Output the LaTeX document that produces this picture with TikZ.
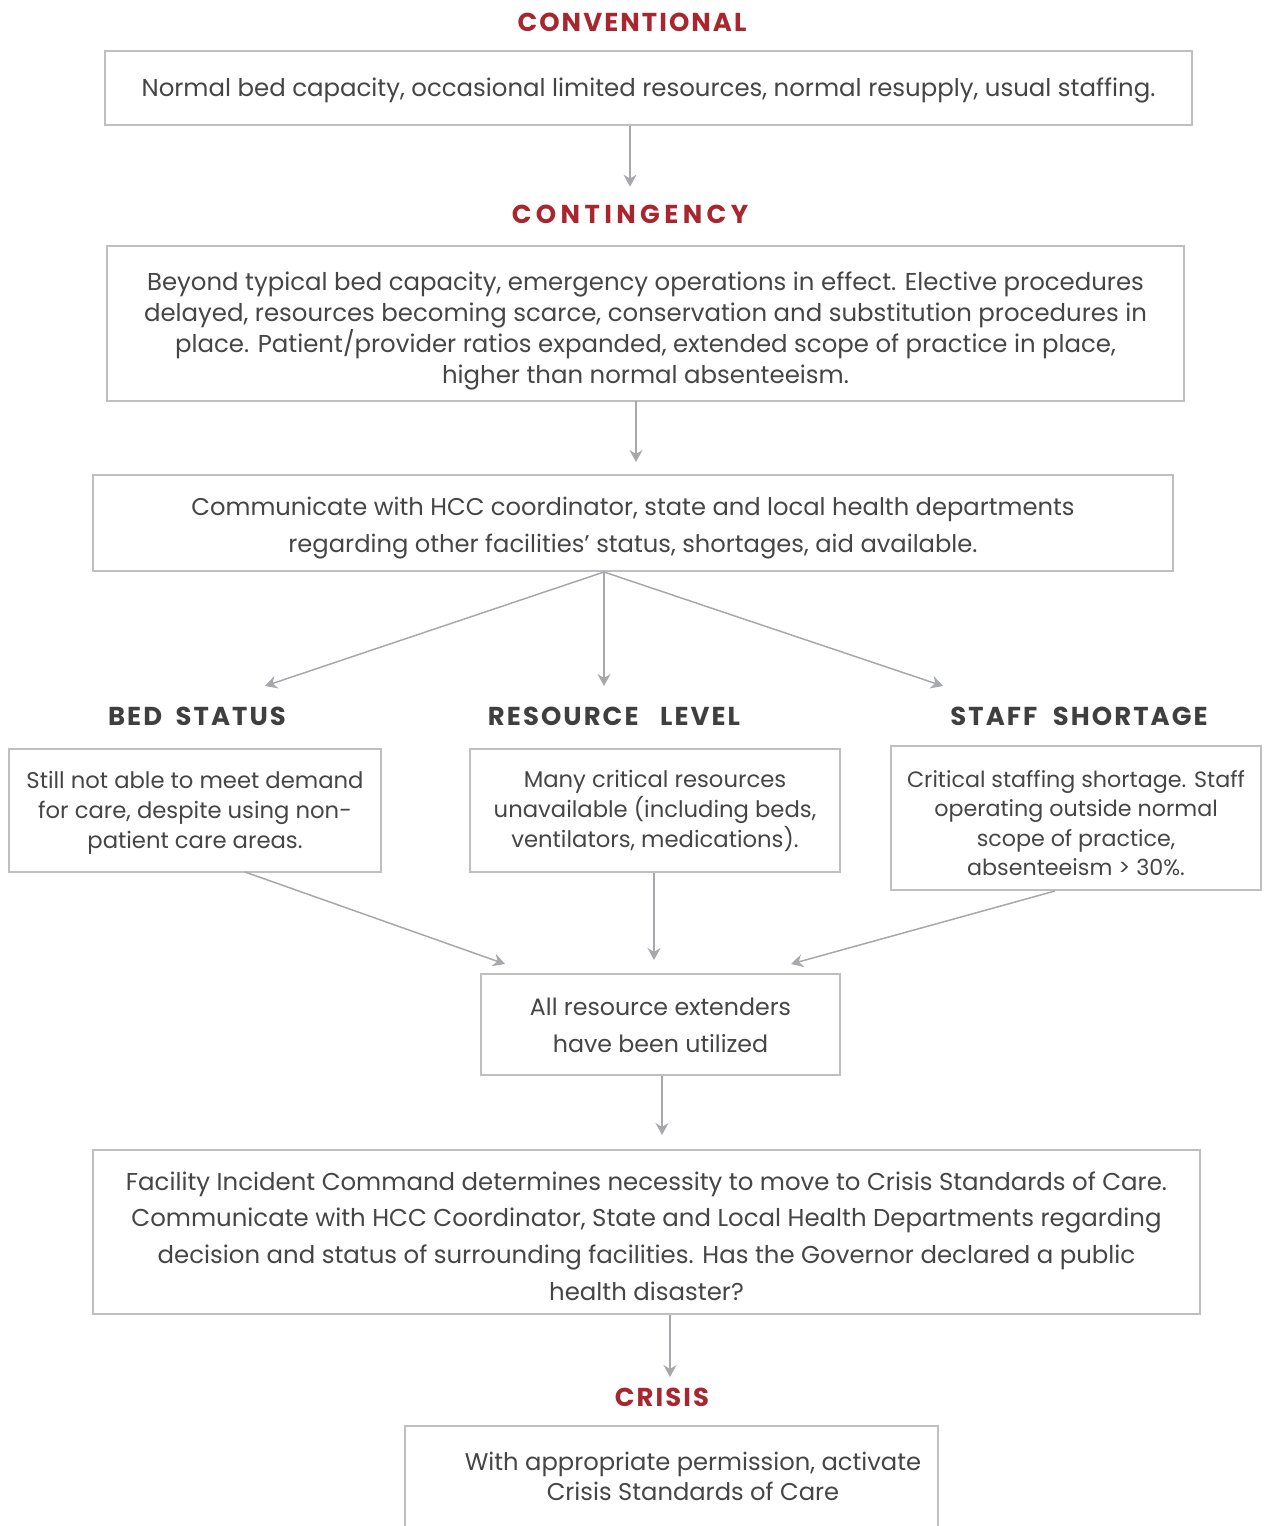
\documentclass[tikz,border=0pt]{standalone}
\usepackage{fontspec}
\setmainfont{Poppins}
\newfontfamily\headfont[LetterSpace=8]{Poppins}
\newfontfamily\wideheadfont[LetterSpace=17]{Poppins}
\usetikzlibrary{arrows.meta,positioning,calc}
\definecolor{headred}{HTML}{A8262F}
\definecolor{headgray}{HTML}{3F3F3F}
\definecolor{txtgray}{HTML}{454545}
\definecolor{linegray}{HTML}{BFBFBF}
\definecolor{arrgray}{HTML}{A6A8AC}

\begin{document}
\begin{tikzpicture}[x=1bp, y=1bp, >={Stealth[length=12bp, width=13bp, inset=4bp]},
    box/.style={draw=linegray, line width=1.3bp, inner sep=0pt, align=center, text=txtgray},
    sink/.style={text height=#1, text depth=0pt},
    big/.style={font=\fontsize{24.5}{31}\selectfont},
    small/.style={font=\fontsize{22.8}{30}\selectfont},
    stage/.style={text=headred, font=\headfont\bfseries\fontsize{26}{28}\selectfont},
    branch/.style={text=headgray, font=\headfont\bfseries\fontsize{26}{28}\selectfont},
    flow/.style={->, draw=arrgray, line width=1.5bp}]
        \clip (0,0) rectangle (1264,-1526);
        % stages
        \node[stage] (tconv) at (632,-22) {CONVENTIONAL};
        \node[box, big, sink=18bp, minimum width=1087bp, minimum height=74bp] (conv) at (648.5,-88)
            {Normal bed capacity, occasional limited resources, normal resupply, usual staffing.};
        \node[stage, font=\wideheadfont\bfseries\fontsize{26}{28}\selectfont] (tcont) at (630,-214) {CONTINGENCY};
        \node[box, big, sink=119bp, minimum width=1077bp, minimum height=155bp] (cont) at (645.5,-323.5)
            {Beyond typical bed capacity, emergency operations in effect. Elective procedures\\
             delayed, resources becoming scarce, conservation and substitution procedures in\\
             place. Patient/provider ratios expanded, extended scope of practice in place,\\
             higher than normal absenteeism.};
        \node[box, sink=59bp, font=\fontsize{24.3}{37}\selectfont, minimum width=1080bp, minimum height=96bp] (comm) at (633,-523)
            {Communicate with HCC coordinator, state and local health departments\\
             regarding other facilities’ status, shortages, aid available.};
        % three branches
        \node[branch] (tbed) at (197,-716) {BED\hspace{6bp} STATUS};
        \node[branch] (tres) at (614,-716) {RESOURCE\hspace{14bp} LEVEL};
        \node[branch] (tstaff) at (1079,-716) {STAFF\hspace{8bp} SHORTAGE};
        \node[box, small, sink=75bp, minimum width=372bp, minimum height=123bp] (bed) at (195,-810.5)
            {Still not able to meet demand\\ for care, despite using non-\\ patient care areas.};
        \node[box, small, sink=74bp, minimum width=370bp, minimum height=123bp] (res) at (655,-810.5)
            {Many critical resources\\ unavailable (including beds,\\ ventilators, medications).};
        \node[box, sink=115bp, font=\fontsize{22.3}{29.5}\selectfont, minimum width=370bp, minimum height=144bp] (staff) at (1076,-818)
            {Critical staffing shortage. Staff\\ operating outside normal\\ scope of practice,\\ absenteeism > 30\%.};
        \node[box, sink=55bp, font=\fontsize{23.8}{37}\selectfont, minimum width=359bp, minimum height=101bp] (ext) at (660.5,-1024.5)
            {All resource extenders\\ have been utilized};
        \node[box, sink=136bp, font=\fontsize{24.5}{36.7}\selectfont, minimum width=1107bp, minimum height=164bp] (fic) at (646.5,-1232)
            {Facility Incident Command determines necessity to move to Crisis Standards of Care.\\
             Communicate with HCC Coordinator, State and Local Health Departments regarding\\
             decision and status of surrounding facilities. Has the Governor declared a public\\
             health disaster?};
        \node[stage] (tcris) at (662,-1397) {CRISIS};
        \node[box, minimum width=533bp, minimum height=110bp] (cris) at (671.5,-1481) {};
        \node[text=txtgray, align=center, anchor=base, font=\fontsize{24.3}{30}\selectfont] (cristxt) at (693,-1500)
            {With appropriate permission, activate\\ Crisis Standards of Care};
        % connectors
        \coordinate (fan) at (604,-572);
        \coordinate (inbed) at (265,-686);
        \coordinate (inres) at (604,-686);
        \coordinate (instaff) at (943,-686);
        \coordinate (outbed) at (245,-872);
        \coordinate (outstaff) at (1055,-891);
        \coordinate (inextl) at (505,-964);
        \coordinate (inextr) at (791,-964);
        \draw[flow] (conv.south -| tcont) -- ++(0,-61);
        \draw[flow] (636,-401) -- ++(0,-61);
        \draw[flow] (fan) -- (inbed);
        \draw[flow] (fan) -- (inres);
        \draw[flow] (fan) -- (instaff);
        \draw[flow] (outbed) -- (inextl);
        \draw[flow] (res.south -| 654,0) -- (654,-960);
        \draw[flow] (outstaff) -- (inextr);
        \draw[flow] (ext.south -| 662,0) -- (662,-1135);
        \draw[flow] (fic.south -| 670,0) -- (670,-1377);
\end{tikzpicture}
\end{document}
